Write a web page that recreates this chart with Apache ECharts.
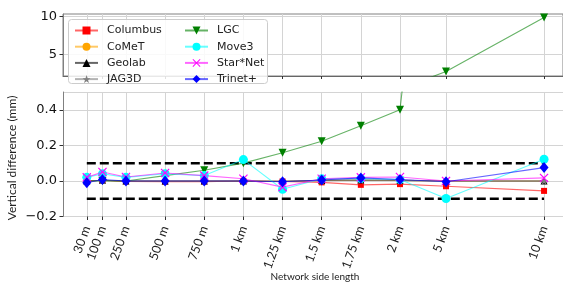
<!DOCTYPE html>
<html><head><meta charset="utf-8">
<script src="https://cdn.jsdelivr.net/npm/echarts@6/dist/echarts.min.js"></script>
<style>html,body{margin:0;padding:0;background:#fff}#c{width:563px;height:284px}</style>
</head><body><div id="c"></div>
<script>
// ---- data ----
const sizeLabels = ['30 m','100 m','250 m','500 m','750 m','1 km','1.25 km','1.5 km','1.75 km','2 km','5 km','10 km'];
// position of each network size on the (non-uniform) horizontal display scale
const xPos = [0, 0.1, 0.25, 0.5, 0.75, 1, 1.25, 1.5, 1.75, 2, 2.294, 2.92];
const columbus = [0, 0.004, -0.003, -0.005, -0.004, 0, -0.003, -0.008, -0.022, -0.018, -0.03, -0.056];
const comet    = [0, 0.004, 0, 0, 0, 0, -0.002, 0.003, 0.004, 0.003, 0, 0];
const geolab   = [0, 0.004, 0, 0, 0, 0, -0.002, 0.003, 0.005, 0.003, 0, 0];
const jag3d    = [0, 0.004, 0, 0, 0, 0, -0.002, 0.003, 0.005, 0.003, 0, 0];
const lgc      = [0, 0, 0, 0.03, 0.06, 0.1, 0.158, 0.223, 0.31, 0.4, 2.7, 9.9];
const move3    = [0.02, 0.04, 0.02, 0.04, 0.03, 0.12, -0.047, 0.012, 0.013, 0.008, -0.099, 0.122];
const starnet  = [0.02, 0.05, 0.022, 0.045, 0.03, 0.012, -0.035, 0.012, 0.02, 0.022, 0.0, 0.017];
const trinet   = [-0.01, 0.008, 0, 0, 0, 0, -0.005, 0.005, 0.017, 0.008, -0.005, 0.075];
const tolerance = 0.1;
const topTicks = [5, 10];

// ---- styles ----
const STAR = 'path://M5,0L6.2,3.6L10,3.6L6.9,5.9L8.1,9.5L5,7.3L1.9,9.5L3.1,5.9L0,3.6L3.8,3.6Z';
const CROSS = 'path://M0,0.9L0.9,0L5,4.1L9.1,0L10,0.9L5.9,5L10,9.1L9.1,10L5,5.9L0.9,10L0,9.1L4.1,5Z';
const defs = [
  {name:'Columbus', vals:columbus, color:'#ff0000', symbol:'rect', size:6},
  {name:'CoMeT', vals:comet, color:'#ffa500', symbol:'circle', size:4},
  {name:'Geolab', vals:geolab, color:'#000000', symbol:'triangle', size:7},
  {name:'JAG3D', vals:jag3d, color:'#808080', symbol:STAR, size:8},
  {name:'LGC', vals:lgc, color:'#008000', symbol:'triangle', size:8, rotate:180},
  {name:'Move3', vals:move3, color:'#00ffff', symbol:'circle', size:9},
  {name:'Star*Net', vals:starnet, color:'#ff00ff', symbol:CROSS, size:9},
  {name:'Trinet+', vals:trinet, color:'#0000ff', symbol:'diamond', size:[9,11]}
];

const xMin = -0.152, xMax = 3.041;
function xLabel(v){ for (let i=0;i<xPos.length;i++) if (Math.abs(xPos[i]-v)<1e-6) return sizeLabels[i]; return ''; }

const series = [];
[0,1].forEach(g => {
  defs.forEach((d, k) => {
    series.push({
      name: d.name, type:'line', xAxisIndex:g, yAxisIndex:g,
      data: xPos.map((x,i)=>[x, d.vals[i]]),
      symbol: d.symbol, symbolSize: d.size, symbolRotate: d.rotate || 0,
      showAllSymbol: true, clip: true, z: 3 + k, animation:false,
      itemStyle: {color: d.color, opacity:1},
      lineStyle: {color: d.color, width: 1.1, opacity: 0.6}
    });
  });
});
[tolerance, -tolerance].forEach(t => {
  series.push({
    type:'line', xAxisIndex:1, yAxisIndex:1, silent:true, animation:false, z:2,
    data: [[xPos[0], t], [xPos[xPos.length-1], t]], showSymbol:false, symbol:'none',
    lineStyle: {color:'#000', width:2.5, type:[9,4]}
  });
});

const gridCol = '#d4d4d4', spineCol = '#808080';
const option = {
  animation: false,
  grid: [
    {left:63, top:14, width:501, height:62, show:true, borderColor:spineCol, borderWidth:1, backgroundColor:'transparent'},
    {left:63, top:92, width:501, height:124.5}
  ],
  xAxis: [
    {type:'value', gridIndex:0, min:xMin, max:xMax,
     axisLine:{show:true, onZero:false, lineStyle:{color:'#666'}},
     axisTick:{show:true, customValues:xPos, length:3, lineStyle:{color:'#333'}},
     axisLabel:{show:false, customValues:xPos},
     splitLine:{show:true, lineStyle:{color:gridCol}}},
    {type:'value', gridIndex:1, min:xMin, max:xMax,
     axisLine:{show:false, onZero:false},
     axisTick:{show:true, customValues:xPos, length:3.5, lineStyle:{color:'#333'}},
     axisLabel:{show:true, customValues:xPos, rotate:70, margin:10, formatter:xLabel,
                fontFamily:'Lato', fontSize:12.5, color:'#222'},
     splitLine:{show:true, lineStyle:{color:gridCol}}}
  ],
  yAxis: [
    {type:'value', gridIndex:0, min:2.11, max:10.36,
     axisLine:{show:true, onZero:false, lineStyle:{color:spineCol}},
     axisTick:{show:true, customValues:topTicks, length:3.5, lineStyle:{color:'#333'}},
     axisLabel:{customValues:topTicks, margin:6, fontFamily:'DejaVu Sans', fontSize:13, color:'#111'},
     splitLine:{show:true, lineStyle:{color:gridCol}}},
    {type:'value', gridIndex:1, min:-0.2, max:0.5, interval:0.2,
     axisLine:{show:true, onZero:false, lineStyle:{color:spineCol}},
     axisTick:{show:true, length:3.5, lineStyle:{color:'#333'}},
     axisLabel:{margin:6, showMaxLabel:false, fontFamily:'DejaVu Sans', fontSize:13, color:'#111',
                formatter: v => (v<0?'\u2212':'') + Math.abs(v).toFixed(1)},
     splitLine:{show:true, lineStyle:{color:gridCol}}}
  ],
  legend: [
    {data:['Columbus','CoMeT','Geolab','JAG3D'], orient:'vertical', left:74, top:25, padding:0,
     itemWidth:23, itemHeight:10, itemGap:5.2, z:20,
     textStyle:{fontFamily:'DejaVu Sans', fontSize:11, color:'#222', padding:[0,0,0,4]}},
    {data:['LGC','Move3','Star*Net','Trinet+'], orient:'vertical', left:184, top:25, padding:0,
     itemWidth:23, itemHeight:10, itemGap:5.2, z:20,
     textStyle:{fontFamily:'DejaVu Sans', fontSize:11, color:'#222', padding:[0,0,0,4]}}
  ],
  graphic: [
    {type:'rect', z:15, shape:{x:68.5, y:19.5, width:199, height:64, r:3},
     style:{fill:'rgba(255,255,255,0.85)', stroke:'#cccccc', lineWidth:1}},
    {type:'text', z:15, x:12, y:158, rotation:Math.PI/2,
     style:{text:'Vertical difference (mm)', fontFamily:'Lato', fontSize:12, fill:'#222', align:'center', verticalAlign:'middle'}},
    {type:'text', z:15, x:315, y:277,
     style:{text:'Network side length', fontFamily:'Lato', fontSize:10, fill:'#222', align:'center', verticalAlign:'middle'}}
  ],
  series: series
};
const chart = echarts.init(document.getElementById('c'), null, {renderer:'canvas'});
chart.setOption(option);
</script>
</body></html>
